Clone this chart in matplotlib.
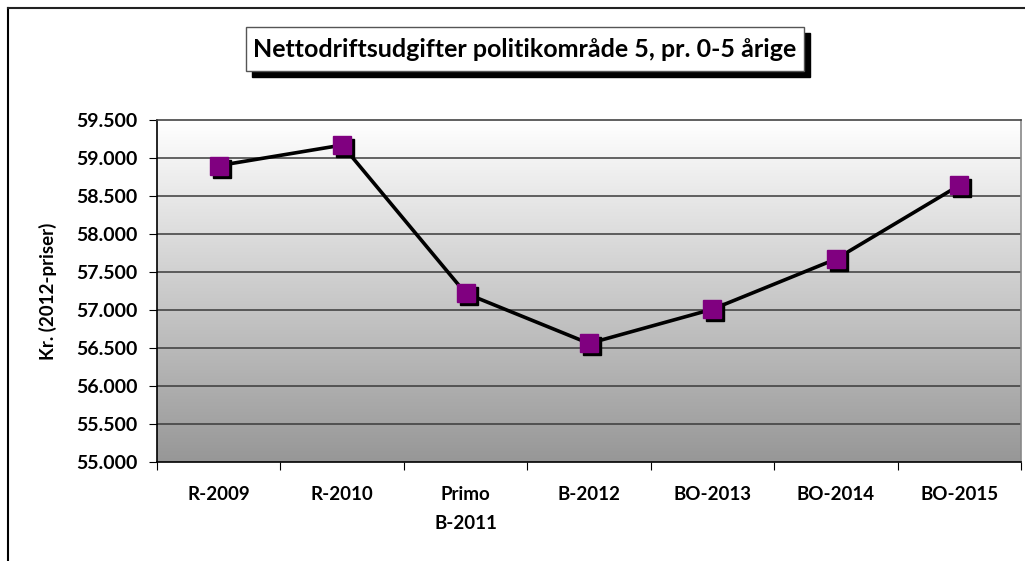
import numpy as np
import matplotlib
matplotlib.use("Agg")
import matplotlib.pyplot as plt
from matplotlib.patches import Rectangle
from matplotlib.transforms import offset_copy
from matplotlib.ticker import FuncFormatter, MultipleLocator

categories = ["R-2009", "R-2010", "Primo\nB-2011", "B-2012", "BO-2013", "BO-2014", "BO-2015"]
values = [58900, 59170, 57220, 56560, 57010, 57670, 58640]

title = "Nettodriftsudgifter politikområde 5, pr. 0-5 årige"
ylabel = "Kr. (2012-priser)"

plt.rcParams["font.family"] = ["Lato", "DejaVu Sans"]
plt.rcParams["font.weight"] = "bold"

W, H = 1025, 561
fig = plt.figure(figsize=(W / 100, H / 100), dpi=100)
ax = fig.add_axes([157 / W, 1 - 462 / H, 864 / W, 342 / H])

# outer chart frame (top + left visible)
fig.add_artist(plt.Line2D([7.5 / W, 7.5 / W], [0, 1 - 8 / H], color="black", lw=1.5))
fig.add_artist(plt.Line2D([7.5 / W, 1], [1 - 8 / H, 1 - 8 / H], color="#222222", lw=1.5))

# gradient plot area
grad = np.linspace(0, 1, 256).reshape(-1, 1)
ax.imshow(grad, extent=[0, 1, 0, 1], transform=ax.transAxes, aspect="auto",
          cmap=matplotlib.colors.LinearSegmentedColormap.from_list("g", ["#ffffff", "#979797"]),
          zorder=0)

x = np.arange(len(categories))
ax.set_xlim(-0.5, len(categories) - 0.5)
ax.set_ylim(55000, 59500)
ax.yaxis.set_major_locator(MultipleLocator(500))
ax.yaxis.set_major_formatter(FuncFormatter(lambda v, p: f"{v:,.0f}".replace(",", ".")))
for yv in np.arange(55500, 59500, 500):
    ax.axhline(yv, color="#3a3a3a", lw=1.1, zorder=1)

ax.plot(x, values, color="black", lw=2.6, zorder=3)
shadow = offset_copy(ax.transData, fig=fig, x=3, y=-3, units="dots")
ax.plot(x, values, ls="none", marker="s", ms=13, color="black", transform=shadow, zorder=4)
ax.plot(x, values, ls="none", marker="s", ms=13, color="#800080", mec="#800080", zorder=5)

ax.set_xticks(np.arange(len(categories) + 1) - 0.5)
ax.set_xticklabels([])
ax.set_xticks(x, minor=True)
ax.set_xticklabels(categories, minor=True, fontsize=13.5, fontweight="bold", linespacing=1.85)
ax.tick_params(axis="x", which="minor", length=0, pad=17)
ax.tick_params(axis="x", which="major", length=6, direction="out", color="black")
ax.tick_params(axis="y", length=6, direction="out", pad=8, labelsize=14)
for lab in ax.get_yticklabels():
    lab.set_fontweight("bold")
for lab in ax.get_xticklabels(minor=True):
    lab.set_verticalalignment("top")

ax.spines["left"].set_color("black")
ax.spines["bottom"].set_color("black")
ax.spines["top"].set_color("#444444")
ax.spines["right"].set_color("#888888")
for s in ax.spines.values():
    s.set_linewidth(1.2)

ax.set_ylabel(ylabel, fontsize=13.5, fontweight="bold", labelpad=14)

# title box with drop shadow
fig.add_artist(Rectangle((252 / W, 1 - 77 / H), 558 / W, 44 / H, transform=fig.transFigure,
                         facecolor="black", edgecolor="black", zorder=1))
fig.add_artist(Rectangle((246 / W, 1 - 71 / H), 558 / W, 44 / H, transform=fig.transFigure,
                         facecolor="white", edgecolor="#555555", lw=1, zorder=2))
fig.text(525 / W, 1 - 49 / H, title, ha="center", va="center", fontsize=18,
         fontweight="bold", zorder=3)

fig.savefig("out.png", dpi=100)
